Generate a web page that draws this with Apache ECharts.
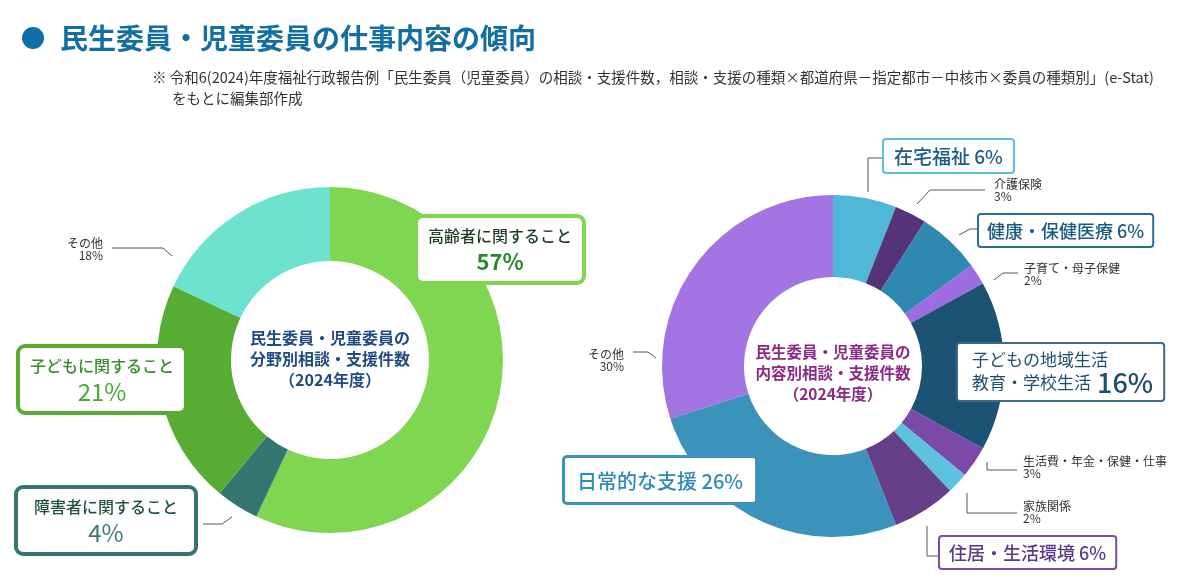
<!DOCTYPE html>
<html>
<head>
<meta charset="utf-8">
<script src="https://cdn.jsdelivr.net/npm/echarts@6/dist/echarts.min.js"></script>
<style>
  html, body { margin: 0; padding: 0; background: #fff; }
  #chart { width: 1200px; height: 587px; }
</style>
</head>
<body>
<div id="chart"></div>
<script>
// 分野別（左）
const fieldNames = ['高齢者に関すること', '障害者に関すること', '子どもに関すること', 'その他']
const fieldValues = [57, 4, 21, 18]
// 内容別（右）
const contentNames = ['在宅福祉', '介護保険', '健康・保健医療', '子育て・母子保健', '子どもの地域生活\n教育・学校生活',
  '生活費・年金・保健・仕事', '家族関係', '住居・生活環境', '日常的な支援', 'その他']
const contentValues = [6, 3, 6, 2, 16, 3, 2, 6, 26, 30]

const fieldColors = ['#7fd650', '#357671', '#57ad33', '#6de2cf']
const contentColors = ['#50b8d6', '#553379', '#2f88b0', '#9c6ce0', '#1c5274', '#7b49a8', '#5cc3de', '#663f8b', '#3b93bb', '#a275e3']

const FONT = '"Noto Sans CJK JP", "Noto Sans", sans-serif'

// ラベルの置き場所 [x, y, align]
const fieldLabelPos = [[418, 218], [18, 489], [20, 348], [107, 237, 'right']]
const contentLabelPos = [[884, 140], [990, 178], [979, 215], [1020, 262], [958, 344],
  [1019, 455], [1019, 500], [940, 537], [565, 458], [628, 348, 'right']]
// 引き出し線（null は線なし）
const fieldArrows = [null, [[203, 524], [222, 524], [232, 517]], null, [[112, 248], [163, 248], [172, 256]]]
const contentArrows = [
  [[884, 158], [868, 158], [868, 192]],
  [[985, 190], [930, 190], [917, 204]],
  [[979, 229], [970, 229], [959, 235]],
  [[1018, 273], [1003, 273], [994, 280]],
  null,
  [[1017, 470], [987, 470], [987, 462]],
  [[1017, 513], [967, 513], [967, 493]],
  [[940, 556], [927, 556], [927, 526]],
  null,
  [[633, 352], [648, 352], [656, 358]]
]

// 枠付き（2行）ラベル
function bigBox(border, nameColor, pctColor, pad, bold, pctSize) {
  return {
    backgroundColor: '#fff', borderColor: border, borderWidth: 4, borderRadius: 5,
    padding: [6, pad, 5, pad], align: 'center',
    formatter: p => `{n|${p.name}}\n{p|${p.value}%}`,
    rich: {
      n: { fontFamily: FONT, fontSize: 16, fontWeight: 500, color: nameColor, lineHeight: 24, align: 'center' },
      p: { fontFamily: FONT, fontSize: pctSize, fontWeight: bold ? 'bold' : 'normal', color: pctColor, lineHeight: 28, align: 'center' }
    }
  }
}
// 枠付き（1行）ラベル
function lineBox(border, color, size, bw, pad) {
  return {
    backgroundColor: '#fff', borderColor: border, borderWidth: bw, borderRadius: 2,
    padding: pad,
    formatter: p => `{n|${p.name} ${p.value}%}`,
    rich: { n: { fontFamily: FONT, fontSize: size, fontWeight: 500, color: color, lineHeight: size + 6 } }
  }
}
// 小さい文字ラベル
function small(align) {
  return {
    padding: [0, 4],
    formatter: p => `{n|${p.name}\n${p.value}%}`,
    rich: { n: { fontFamily: FONT, fontSize: 12, color: '#333', lineHeight: 12, align: align || 'left' } }
  }
}

const fieldLabels = [
  bigBox('#7fd650', '#1f3f1f', '#268a2a', 10, true, 22),
  bigBox('#357671', '#1f5533', '#3b7b76', 16, false, 24),
  bigBox('#57ad33', '#3a8a2e', '#4aa83a', 10, false, 24),
  small('right')
]
const contentLabels = [
  lineBox('#5bc0de', '#1c5c84', 19, 2, [4, 10, 3, 10]),
  small(),
  lineBox('#2c6d92', '#1c5c84', 18, 2, [4, 8, 3, 8]),
  small(),
  {
    backgroundColor: '#fff', borderColor: '#3a6a88', borderWidth: 2, borderRadius: 2,
    padding: [5, 10, 5, 14],
    formatter: p => {
      const lines = p.name.split('\n')
      return `{n|${lines[0]}}\n{n|${lines[1]}}{p| ${p.value}%}`
    },
    rich: {
      n: { fontFamily: FONT, fontSize: 17, color: '#1c4e70', lineHeight: 22 },
      p: { fontFamily: FONT, fontSize: 27, fontWeight: 500, color: '#1c4e70', lineHeight: 24 }
    }
  },
  small(),
  small(),
  lineBox('#7c4aa8', '#5b3a8c', 18, 2, [4, 9, 3, 9]),
  lineBox('#3b93bb', '#2d8bb8', 20, 3, [10, 12, 8, 12]),
  small('right')
]

function buildData(names, values, colors, labels, arrows) {
  return names.map((name, i) => ({
    name: name,
    value: values[i],
    itemStyle: { color: colors[i] },
    label: labels[i],
    labelLine: { show: !!arrows[i] }
  }))
}

function layoutFor(pos, arrows) {
  return params => {
    const p = pos[params.dataIndex]
    const out = { x: p[0], y: p[1], align: p[2] || 'left', verticalAlign: 'top' }
    if (arrows[params.dataIndex]) out.labelLinePoints = arrows[params.dataIndex]
    return out
  }
}

const chart = echarts.init(document.getElementById('chart'))

const labelLine = { length: 8, length2: 8, lineStyle: { color: '#555', width: 1 } }

chart.setOption({
  animation: false,
  graphic: [
    { type: 'circle', shape: { cx: 33, cy: 38, r: 11 }, style: { fill: '#0e6fa8' } },
    {
      type: 'text', x: 60, y: 38,
      style: { text: '民生委員・児童委員の仕事内容の傾向', font: `bold 28px ${FONT}`, fill: '#136fa3', verticalAlign: 'middle' }
    },
    {
      type: 'text', x: 152, y: 77,
      style: {
        text: '※ 令和6(2024)年度福祉行政報告例「民生委員（児童委員）の相談・支援件数，相談・支援の種類×都道府県－指定都市－中核市×委員の種類別」(e-Stat)',
        font: `14.5px ${FONT}`, fill: '#333', verticalAlign: 'middle'
      }
    },
    {
      type: 'text', x: 172, y: 98,
      style: { text: 'をもとに編集部作成', font: `14.5px ${FONT}`, fill: '#333', verticalAlign: 'middle' }
    },
    {
      type: 'text', x: 330, y: 359, z: 10,
      style: {
        text: '民生委員・児童委員の\n分野別相談・支援件数\n（2024年度）',
        font: `bold 16px ${FONT}`, fill: '#1f4b82', align: 'center', verticalAlign: 'middle', lineHeight: 21
      }
    },
    {
      type: 'text', x: 833, y: 373, z: 10,
      style: {
        text: '民生委員・児童委員の\n内容別相談・支援件数\n（2024年度）',
        font: `bold 15.5px ${FONT}`, fill: '#8a2a82', align: 'center', verticalAlign: 'middle', lineHeight: 21
      }
    }
  ],
  series: [
    {
      name: '分野別',
      type: 'pie',
      center: [330, 360],
      radius: [99, 173],
      startAngle: 90,
      clockwise: true,
      avoidLabelOverlap: false,
      label: { show: true, position: 'outside' },
      labelLine: labelLine,
      labelLayout: layoutFor(fieldLabelPos, fieldArrows),
      emphasis: { disabled: true },
      data: buildData(fieldNames, fieldValues, fieldColors, fieldLabels, fieldArrows)
    },
    {
      name: '内容別',
      type: 'pie',
      center: [833, 366],
      radius: [89, 171],
      startAngle: 90,
      clockwise: true,
      avoidLabelOverlap: false,
      label: { show: true, position: 'outside' },
      labelLine: labelLine,
      labelLayout: layoutFor(contentLabelPos, contentArrows),
      emphasis: { disabled: true },
      data: buildData(contentNames, contentValues, contentColors, contentLabels, contentArrows)
    }
  ]
})
</script>
</body>
</html>
